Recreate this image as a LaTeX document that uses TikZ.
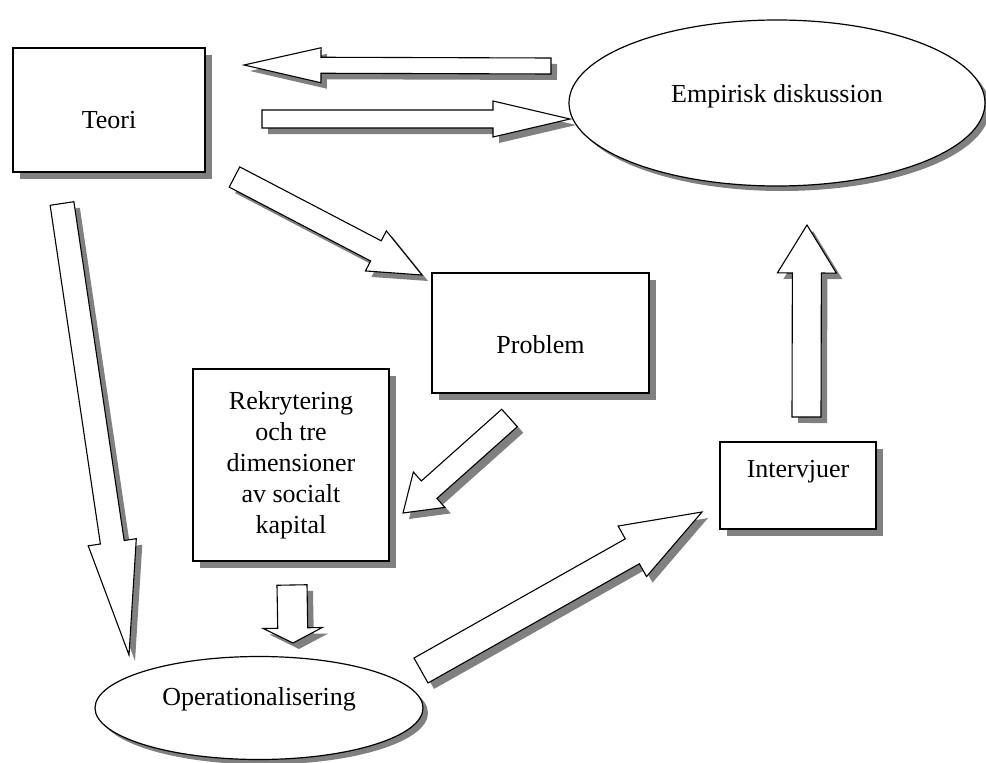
\documentclass[tikz,border=0pt]{standalone}
\usepackage{fontspec}
\setmainfont{Liberation Serif}
\usepackage{tikz}
\usetikzlibrary{calc,shapes.geometric,shadows}

\tikzset{
	dropshade/.style={drop shadow={shadow xshift=#1,shadow yshift=-#1,fill=gray,opacity=1}},
	shapebox/.style={draw,rectangle,line width=1.2pt,fill=white,inner sep=0pt,dropshade=7pt},
	shapeoval/.style={draw,ellipse,line width=1.2pt,fill=white,inner sep=0pt,dropshade=5pt},
	blockarrow/.style={draw,line width=1.1pt,fill=white,line join=miter,
		preaction={fill=gray,transform canvas={xshift=6pt,yshift=-6pt}}}
}
% tail, tip, half shaft, half head, head length
\newcommand{\blockarr}[5]{%
	\path[blockarrow] ($(#1)!#3!90:(#2)$) -- ($(#2)!#5!(#1)!#3!90:(#2)$)
	-- ($(#2)!#5!(#1)!#4!90:(#2)$) -- (#2) -- ($(#2)!#5!(#1)!#4!-90:(#2)$)
	-- ($(#2)!#5!(#1)!#3!-90:(#2)$) -- ($(#1)!#3!-90:(#2)$) -- cycle;}

\begin{document}
\begin{tikzpicture}[x=1pt,y=-1pt,font=\fontsize{26pt}{31pt}\selectfont]
	\useasboundingbox (0,0) rectangle (986,763);
	\node[shapebox,minimum width=192pt,minimum height=124pt,text height=36pt,text depth=0pt] (teori) at (109,110) {Teori};
	\node[shapeoval,minimum width=416pt,minimum height=166pt,text height=18pt,text depth=20pt] (empiri) at (777,103) {Empirisk diskussion};
	\node[shapebox,minimum width=217pt,minimum height=120pt,text height=40pt,text depth=0pt] (problem) at (540.5,333) {Problem};
	\node[shapebox,minimum width=196pt,minimum height=192pt,align=center] (rekryt) at (291,465) {Rekrytering\\och tre\\dimensioner\\av socialt\\kapital};
	\node[shapebox,minimum width=156pt,minimum height=87pt,text height=18pt,text depth=35pt] (interv) at (798,485.5) {Intervjuer};
	\node[shapeoval,minimum width=328pt,minimum height=103pt,text height=18pt,text depth=24pt] (oper) at (259,708) {Operationalisering};
	
	\coordinate (e2t-a) at (551,66);     \coordinate (e2t-b) at (244,65);
	\coordinate (t2e-a) at (262,119);    \coordinate (t2e-b) at (570,119);
	\coordinate (t2p-a) at (234.5,177);  \coordinate (t2p-b) at (422,275);
	\coordinate (p2r-a) at (509.5,418);  \coordinate (p2r-b) at (403,513);
	\coordinate (r2o-a) at (292,585);    \coordinate (r2o-b) at (293,643);
	\coordinate (t2o-a) at (62,203.5);   \coordinate (t2o-b) at (129,655);
	\coordinate (o2i-a) at (421,670.5);  \coordinate (o2i-b) at (702,512);
	\coordinate (i2e-a) at (806.5,417);  \coordinate (i2e-b) at (807,225);
	
	\blockarr{e2t-a}{e2t-b}{8pt}{17.5pt}{77pt}
	\blockarr{t2e-a}{t2e-b}{9pt}{18pt}{77pt}
	\blockarr{t2p-a}{t2p-b}{11.4pt}{22.6pt}{52pt}
	\blockarr{p2r-a}{p2r-b}{11.7pt}{23.7pt}{35pt}
	\blockarr{r2o-a}{r2o-b}{15pt}{29.5pt}{15pt}
	\blockarr{t2o-a}{t2o-b}{12pt}{24.3pt}{114pt}
	\blockarr{o2i-a}{o2i-b}{14.3pt}{29pt}{80pt}
	\blockarr{i2e-a}{i2e-b}{14.5pt}{29.5pt}{48pt}
\end{tikzpicture}
\end{document}
